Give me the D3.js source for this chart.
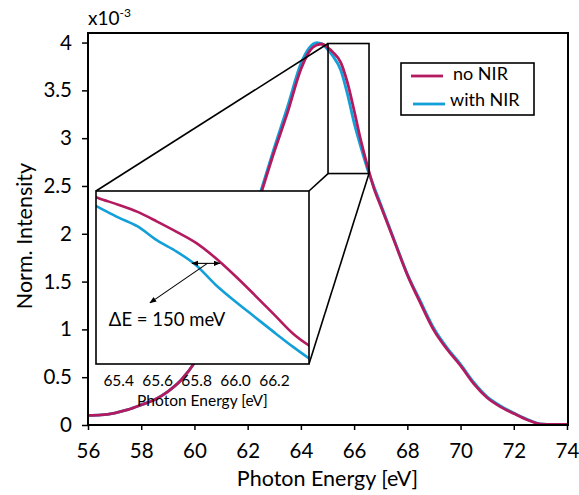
<!DOCTYPE html>
<html>
<head>
<meta charset="utf-8">
<script src="https://cdn.jsdelivr.net/npm/d3@7"></script>
<style>
  body { margin: 0; background: #fff; }
  text { font-family: Lato, "Open Sans", sans-serif; fill: #000; }
</style>
</head>
<body>
<script>
// Spectra (intensity in units of 1e-3)
var energy = [56.0, 56.5, 57.0, 57.5, 58.0, 58.5, 59.0, 59.5, 60.0, 60.5, 61.0, 61.5, 62.0, 62.5, 63.0, 63.5,
  64.0, 64.3, 64.6, 64.8, 65.0, 65.2, 65.5, 65.75, 66.0, 66.25, 66.5, 66.75, 67.0, 67.5, 68.0, 68.5,
  69.0, 69.5, 70.0, 70.5, 71.0, 71.5, 72.0, 72.5, 73.0, 73.5, 74.0];
var noNIR = [0.10, 0.105, 0.125, 0.16, 0.21, 0.265, 0.35, 0.47, 0.65, 0.92, 1.24, 1.60, 1.98, 2.42, 2.86, 3.27,
  3.72, 3.90, 3.975, 3.985, 3.95, 3.90, 3.79, 3.58, 3.29, 2.98, 2.71, 2.47, 2.29, 1.93, 1.57, 1.27,
  0.99, 0.79, 0.62, 0.43, 0.285, 0.19, 0.12, 0.055, 0.01, 0.005, 0.005];
var withNIR = [0.10, 0.105, 0.125, 0.16, 0.21, 0.265, 0.35, 0.47, 0.65, 0.92, 1.25, 1.61, 2.00, 2.45, 2.90, 3.33,
  3.78, 3.94, 4.00, 3.985, 3.93, 3.86, 3.71, 3.46, 3.16, 2.91, 2.68, 2.49, 2.31, 1.94, 1.58, 1.29,
  1.01, 0.805, 0.635, 0.445, 0.295, 0.20, 0.125, 0.06, 0.012, 0.005, 0.005];

// Zoomed inset
var insetEnergy = [65.25, 65.3, 65.4, 65.5, 65.6, 65.7, 65.8, 65.9, 66.0, 66.1, 66.2, 66.3, 66.4];
var insetNoNIR = [3.925, 3.90, 3.855, 3.805, 3.738, 3.667, 3.590, 3.485, 3.362, 3.230, 3.094, 2.958, 2.86];
var insetWithNIR = [3.87, 3.836, 3.767, 3.704, 3.607, 3.530, 3.435, 3.300, 3.185, 3.078, 2.971, 2.867, 2.77];

var xTicks = [56, 58, 60, 62, 64, 66, 68, 70, 72, 74];
var yTicks = [0, 0.5, 1, 1.5, 2, 2.5, 3, 3.5, 4];
var insetTicks = [65.4, 65.6, 65.8, 66.0, 66.2];

// zoom window drawn on the main plot [E0, E1, I0, I1]
var zoomWindow = [65.02, 66.56, 2.63, 3.99];
// arrow annotation in inset data units
var deltaArrow = [65.779, 65.922, 3.448];
var pointer = [65.858, 3.448, 65.563, 3.174];
var deltaLabel = [65.352, 3.015];

var colNo = "#b41a5f";
var colWith = "#13a0d8";

var svgWidth = 579, svgHeight = 495;
var pLeft = 88, pRight = 567, pTop = 33, pBottom = 425;

var svg = d3.select("body").append("svg")
  .attr("width", svgWidth)
  .attr("height", svgHeight);

var x = d3.scaleLinear().domain([56, 74]).range([pLeft, pRight]);
var y = d3.scaleLinear().domain([0, 4.1]).range([pBottom, pTop]);

svg.append("clipPath").attr("id", "plotClip")
  .append("rect").attr("x", pLeft).attr("y", pTop).attr("width", pRight - pLeft).attr("height", pBottom - pTop);

var line = d3.line()
  .x(d => x(d[0]))
  .y(d => y(d[1]))
  .curve(d3.curveMonotoneX);

var plot = svg.append("g").attr("clip-path", "url(#plotClip)");
plot.append("path")
  .attr("d", line(energy.map((e, i) => [e, withNIR[i]])))
  .attr("fill", "none").attr("stroke", colWith).attr("stroke-width", 2.8);
plot.append("path")
  .attr("d", line(energy.map((e, i) => [e, noNIR[i]])))
  .attr("fill", "none").attr("stroke", colNo).attr("stroke-width", 2.8);

// axes
svg.append("g")
  .attr("transform", `translate(0, ${pBottom})`)
  .call(d3.axisBottom(x).tickValues(xTicks).tickSize(5).tickSizeOuter(0).tickPadding(13))
  .call(g => g.select(".domain").remove())
  .call(g => g.selectAll("line").attr("stroke", "#000").attr("stroke-width", 1.5))
  .call(g => g.selectAll("text").style("font-size", "20.5px"));

svg.append("g")
  .attr("transform", `translate(${pLeft}, 0)`)
  .call(d3.axisLeft(y).tickValues(yTicks).tickFormat(d => String(d)).tickSize(6).tickSizeOuter(0).tickPadding(10))
  .call(g => g.select(".domain").remove())
  .call(g => g.selectAll("line").attr("stroke", "#000").attr("stroke-width", 1.5))
  .call(g => g.selectAll("text").style("font-size", "20.5px"));

// frame
svg.append("rect")
  .attr("x", pLeft).attr("y", pTop)
  .attr("width", pRight + 1 - pLeft).attr("height", pBottom - pTop)
  .attr("fill", "none").attr("stroke", "#000").attr("stroke-width", 2);

svg.append("text")
  .attr("x", (pLeft + pRight) / 2).attr("y", 486)
  .attr("text-anchor", "middle")
  .style("font-size", "21.5px")
  .text("Photon Energy [eV]");

svg.append("text")
  .attr("transform", "translate(32, 236) rotate(-90)")
  .attr("text-anchor", "middle")
  .style("font-size", "21.5px")
  .text("Norm. Intensity");

var mult = svg.append("text").attr("x", 88).attr("y", 25).style("font-size", "19px");
mult.append("tspan").text("x10");
mult.append("tspan").attr("dy", -8).style("font-size", "12px").text("-3");

// zoom window + connector lines
var zx0 = x(zoomWindow[0]), zx1 = x(zoomWindow[1]);
var zy0 = y(zoomWindow[3]), zy1 = y(zoomWindow[2]);
var inset = { x0: 96, x1: 309, y0: 191, y1: 364 };

svg.append("rect")
  .attr("x", zx0).attr("y", zy0).attr("width", zx1 - zx0).attr("height", zy1 - zy0)
  .attr("fill", "none").attr("stroke", "#000").attr("stroke-width", 1.6);

var connectors = [
  [inset.x0, inset.y0, zx0, zy0],
  [inset.x1, inset.y0, zx0, zy1],
  [inset.x1, inset.y1, zx1, zy1]
];
svg.selectAll(".conn").data(connectors).enter().append("line")
  .attr("class", "conn")
  .attr("x1", d => d[0]).attr("y1", d => d[1])
  .attr("x2", d => d[2]).attr("y2", d => d[3])
  .attr("stroke", "#000").attr("stroke-width", 1.6);

// inset
var ix = d3.scaleLinear().domain([65.286, 66.38]).range([inset.x0, inset.x1]);
var iy = d3.scaleLinear().domain([2.75, 3.95]).range([inset.y1, inset.y0]);

svg.append("rect")
  .attr("x", inset.x0).attr("y", inset.y0)
  .attr("width", inset.x1 - inset.x0).attr("height", inset.y1 - inset.y0)
  .attr("fill", "#fff");

svg.append("clipPath").attr("id", "insetClip")
  .append("rect").attr("x", inset.x0).attr("y", inset.y0)
  .attr("width", inset.x1 - inset.x0).attr("height", inset.y1 - inset.y0);

var iline = d3.line()
  .x(d => ix(d[0]))
  .y(d => iy(d[1]))
  .curve(d3.curveMonotoneX);

var ig = svg.append("g").attr("clip-path", "url(#insetClip)");
ig.append("path")
  .attr("d", iline(insetEnergy.map((e, i) => [e, insetWithNIR[i]])))
  .attr("fill", "none").attr("stroke", colWith).attr("stroke-width", 2.6);
ig.append("path")
  .attr("d", iline(insetEnergy.map((e, i) => [e, insetNoNIR[i]])))
  .attr("fill", "none").attr("stroke", colNo).attr("stroke-width", 2.6);

svg.append("rect")
  .attr("x", inset.x0).attr("y", inset.y0)
  .attr("width", inset.x1 - inset.x0).attr("height", inset.y1 - inset.y0)
  .attr("fill", "none").attr("stroke", "#000").attr("stroke-width", 1.6);

svg.append("g")
  .attr("transform", `translate(0, ${inset.y1})`)
  .call(d3.axisBottom(ix).tickValues(insetTicks).tickFormat(d3.format(".1f")).tickSize(0).tickPadding(11))
  .call(g => g.select(".domain").remove())
  .call(g => g.selectAll("text").style("font-size", "15.5px"));

svg.append("text")
  .attr("x", (inset.x0 + inset.x1) / 2).attr("y", 406)
  .attr("text-anchor", "middle")
  .style("font-size", "15.5px")
  .text("Photon Energy [eV]");

// arrows
var defs = svg.append("defs");
defs.append("marker").attr("id", "head")
  .attr("viewBox", "0 0 10 10").attr("refX", 9).attr("refY", 5)
  .attr("markerWidth", 7).attr("markerHeight", 7).attr("orient", "auto-start-reverse")
  .attr("markerUnits", "userSpaceOnUse")
  .append("path").attr("d", "M0,1 L10,5 L0,9 z").attr("fill", "#000");

svg.append("line")
  .attr("x1", ix(deltaArrow[0])).attr("x2", ix(deltaArrow[1]))
  .attr("y1", iy(deltaArrow[2])).attr("y2", iy(deltaArrow[2]))
  .attr("stroke", "#000").attr("stroke-width", 1.1)
  .attr("marker-start", "url(#head)").attr("marker-end", "url(#head)");

svg.append("line")
  .attr("x1", ix(pointer[0])).attr("y1", iy(pointer[1]))
  .attr("x2", ix(pointer[2])).attr("y2", iy(pointer[3]))
  .attr("stroke", "#000").attr("stroke-width", 1.1)
  .attr("marker-end", "url(#head)");

svg.append("text")
  .attr("x", ix(deltaLabel[0])).attr("y", iy(deltaLabel[1]))
  .style("font-size", "18.5px")
  .text("ΔE = 150 meV");

// legend
var legend = svg.append("g");
legend.append("rect")
  .attr("x", 401).attr("y", 63).attr("width", 133).attr("height", 52)
  .attr("fill", "#fff").attr("stroke", "#000").attr("stroke-width", 1.6);

var legendItems = [["no NIR", colNo, 411, 76, 453, 80], ["with NIR", colWith, 413, 104, 450, 106]];
legendItems.forEach(function(d) {
  legend.append("line")
    .attr("x1", d[2]).attr("x2", d[2] + 32).attr("y1", d[3]).attr("y2", d[3])
    .attr("stroke", d[1]).attr("stroke-width", 2.8);
  legend.append("text")
    .attr("x", d[4]).attr("y", d[5])
    .style("font-size", "18px")
    .text(d[0]);
});
</script>
</body>
</html>
